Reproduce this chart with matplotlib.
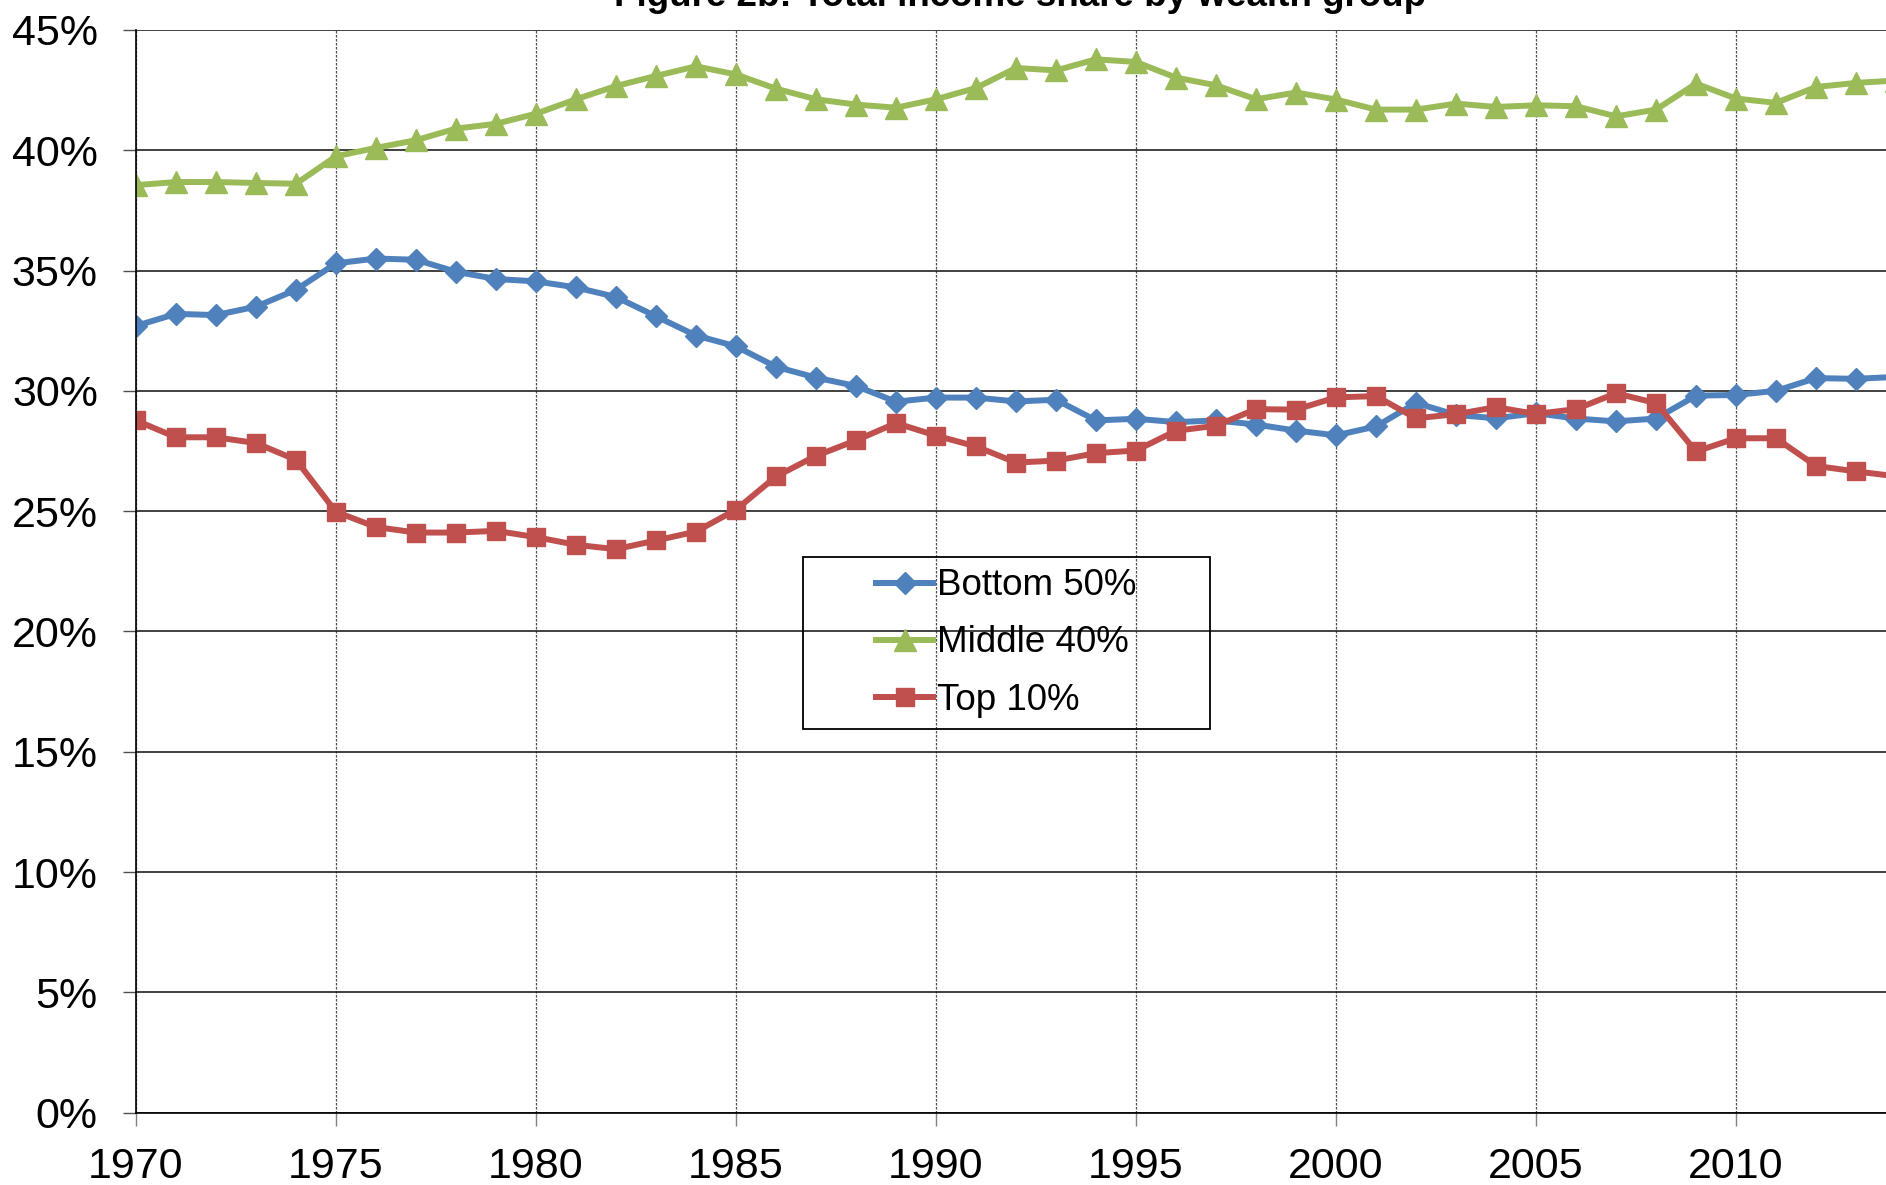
import matplotlib
matplotlib.use("Agg")
import matplotlib.pyplot as plt
from matplotlib.patches import Rectangle
from matplotlib.ticker import PercentFormatter

plt.rcParams['font.family'] = ['Liberation Sans', 'DejaVu Sans']

# values (% of total income)
years = list(range(1970, 2015))

bottom50 = [32.7, 33.2, 33.15, 33.5, 34.2, 35.3, 35.5, 35.45, 34.95, 34.65,
            34.55, 34.3, 33.9, 33.1, 32.3, 31.85, 31.0, 30.55, 30.2, 29.55,
            29.72, 29.72, 29.56, 29.63, 28.77, 28.84, 28.7, 28.77, 28.6, 28.35,
            28.15, 28.52, 29.5, 29.0, 28.86, 29.07, 28.85, 28.73, 28.85, 29.8,
            29.83, 30.0, 30.53, 30.5, 30.58]

middle40 = [38.55, 38.68, 38.68, 38.64, 38.61, 39.75, 40.1, 40.42, 40.9, 41.1,
            41.52, 42.12, 42.67, 43.09, 43.49, 43.15, 42.56, 42.12, 41.9, 41.77,
            42.12, 42.59, 43.42, 43.32, 43.78, 43.67, 43.02, 42.7, 42.12, 42.4,
            42.11, 41.69, 41.69, 41.94, 41.8, 41.87, 41.83, 41.41, 41.69, 42.77,
            42.15, 41.97, 42.63, 42.8, 42.9]

top10 = [28.77, 28.07, 28.07, 27.83, 27.13, 24.97, 24.34, 24.11, 24.11, 24.18,
         23.92, 23.6, 23.42, 23.78, 24.15, 25.06, 26.44, 27.3, 27.94, 28.66,
         28.14, 27.69, 27.02, 27.1, 27.41, 27.52, 28.34, 28.55, 29.24, 29.22,
         29.73, 29.78, 28.86, 29.03, 29.32, 29.04, 29.24, 29.9, 29.49, 27.48,
         28.03, 28.03, 26.88, 26.65, 26.45]

title = "Figure 2b: Total income share by wealth group"

fig = plt.figure(figsize=(18.86, 11.85), dpi=100)
ax = fig.add_axes([0.0721, 0.0611, 0.9279, 0.9136])

ax.plot(years, bottom50, color='#4F81BD', lw=4.3, marker='D', ms=11,
        mec='#4F81BD', label='Bottom 50%')
ax.plot(years, middle40, color='#9BBB59', lw=4.3, marker='^', ms=16,
        mec='#9BBB59', label='Middle 40%')
ax.plot(years, top10, color='#C0504D', lw=4.3, marker='s', ms=12.5,
        mec='#C0504D', label='Top 10%')

ax.set_xlim(1970, 2013.75)
ax.set_ylim(0, 45)
ax.set_xticks(range(1970, 2014, 5))
ax.set_yticks(range(0, 46, 5))
ax.yaxis.set_major_formatter(PercentFormatter(decimals=0))

ax.yaxis.grid(True, color='#202020', lw=1.2, ls='-')
ax.xaxis.grid(True, color='#505050', lw=0.9, ls=(0, (2, 1.2)))
ax.set_axisbelow(True)

for side in ['top', 'right']:
    ax.spines[side].set_visible(False)
ax.spines['left'].set_color('black')
ax.spines['bottom'].set_color('black')
ax.spines['left'].set_linewidth(1.2)
ax.spines['bottom'].set_linewidth(1.2)

ax.tick_params(axis='y', direction='out', length=9.5, width=1, color='#505050',
               labelsize=31, pad=18)
ax.tick_params(axis='x', direction='out', length=9.5, width=1, color='#808080',
               labelsize=31, pad=15)

# legend without frame, box drawn separately to match the wide padding
leg = ax.legend(loc='center', bbox_to_anchor=(1006.5 / 1886, 1 - 643 / 1185),
                bbox_transform=fig.transFigure, frameon=False, fontsize=26.5,
                handlelength=1.55, handletextpad=0.1, labelspacing=0.6,
                numpoints=1, markerscale=1.0)
fig.patches.append(Rectangle((803 / 1886, 1 - 729 / 1185), 407 / 1886, 172 / 1185,
                             transform=fig.transFigure, fill=False,
                             edgecolor='black', lw=1.3, zorder=5))

fig.text(0.541, 0.995, title, ha='center', va='baseline', fontsize=26.5,
         fontweight='bold')

fig.savefig('out.png', dpi=100)
